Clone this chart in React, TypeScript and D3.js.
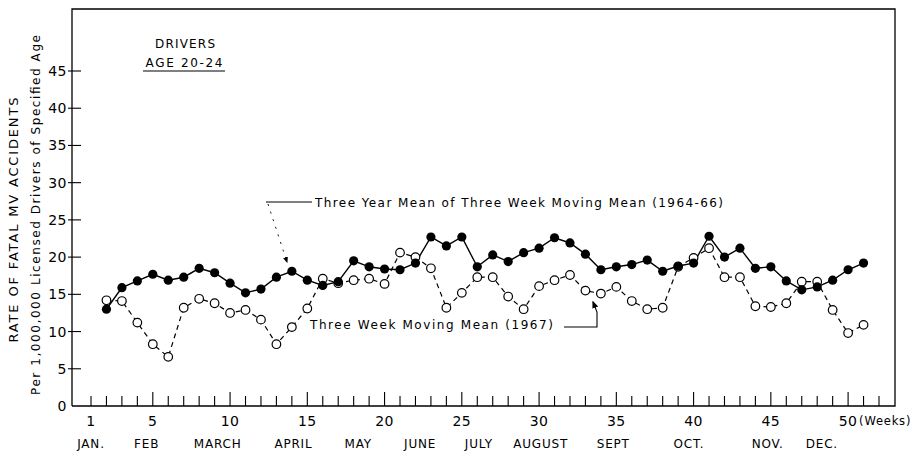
import React from "react";
import * as d3 from "d3";

// weeks 2..51 (three week moving means)
const weeks = d3.range(2, 52);
const meanValues = [
  13.0, 15.9, 16.8, 17.7, 16.9, 17.3, 18.5, 17.9, 16.5, 15.2,
  15.7, 17.3, 18.1, 16.9, 16.2, 16.7, 19.5, 18.7, 18.4, 18.3,
  19.2, 22.7, 21.5, 22.7, 18.7, 20.3, 19.4, 20.6, 21.2, 22.6,
  21.9, 20.4, 18.3, 18.7, 19.0, 19.6, 18.1, 18.8, 19.2, 22.8,
  20.0, 21.2, 18.5, 18.7, 16.8, 15.6, 16.0, 16.9, 18.3, 19.2,
];
const rate1967 = [
  14.2, 14.1, 11.2, 8.3, 6.6, 13.2, 14.4, 13.8, 12.5, 12.9,
  11.6, 8.3, 10.6, 13.1, 17.1, 16.5, 16.9, 17.1, 16.4, 20.6,
  20.0, 18.5, 13.2, 15.2, 17.3, 17.3, 14.7, 13.0, 16.1, 16.9,
  17.6, 15.5, 15.1, 16.0, 14.1, 13.0, 13.2, 18.7, 19.9, 21.2,
  17.3, 17.3, 13.4, 13.3, 13.8, 16.7, 16.7, 12.9, 9.8, 10.9,
];
const yTicks = [0, 5, 10, 15, 20, 25, 30, 35, 40, 45];
const xLabels = [1, 5, 10, 15, 20, 25, 30, 35, 40, 45, 50];
const months = ["JAN.", "FEB", "MARCH", "APRIL", "MAY", "JUNE", "JULY", "AUGUST", "SEPT", "OCT.", "NOV.", "DEC."];
const monthPos = [1.0, 4.6, 9.2, 14.1, 18.3, 22.3, 26.1, 30.1, 34.8, 39.7, 44.8, 48.3];

const FONT = "'DejaVu Sans', sans-serif";

export default function App() {
  const x = d3.scaleLinear().domain([1, 52]).range([91, 879]);
  const y = d3.scaleLinear().domain([0, 45]).range([406, 71]);
  const axisLeft = 72;
  const axisBottom = y(0);
  const right = 895;
  const top = 9;

  const line = d3
    .line<number>()
    .x((_, i) => x(weeks[i]))
    .y((d) => y(d));

  const weekTicks = d3.range(1, 53);

  return (
    <svg
      width={917}
      height={457}
      style={{ position: "absolute", left: 0, top: 0, background: "white" }}
      fontFamily={FONT}
    >
      <defs>
        <marker id="arrow" viewBox="0 0 10 10" refX="8" refY="5" markerWidth="7" markerHeight="7" orient="auto">
          <path d="M0,1 L10,5 L0,9 z" fill="black" />
        </marker>
      </defs>

      {/* frame */}
      <path
        d={`M${axisLeft},${axisBottom} L${axisLeft},${top} L${right},${top} L${right},${axisBottom} L${axisLeft},${axisBottom}`}
        fill="none"
        stroke="black"
        strokeWidth={1.3}
      />

      {/* y ticks */}
      {yTicks.map((t) => (
        <g key={t}>
          {t > 0 && (
            <line x1={axisLeft - 4} x2={axisLeft + 9} y1={y(t)} y2={y(t)} stroke="black" strokeWidth={1.1} />
          )}
          <text x={67} y={y(t)} dy="0.36em" textAnchor="end" fontSize={14} letterSpacing={0.5}>
            {t}
          </text>
        </g>
      ))}

      {/* x ticks */}
      {weekTicks.map((w) => (
        <line
          key={w}
          x1={x(w)}
          x2={x(w)}
          y1={axisBottom}
          y2={axisBottom - (w % 5 === 0 ? 14 : 10)}
          stroke="black"
          strokeWidth={1.1}
        />
      ))}
      {xLabels.map((w) => (
        <text key={w} x={x(w)} y={421} dy="0.36em" textAnchor="middle" fontSize={14} letterSpacing={0.5}>
          {w}
        </text>
      ))}
      <text x={x(50) + 11} y={421} dy="0.36em" fontSize={11.5} letterSpacing={0.8}>
        (Weeks)
      </text>
      {months.map((m, i) => (
        <text key={m} x={x(monthPos[i])} y={444} dy="0.36em" textAnchor="middle" fontSize={12} letterSpacing={0.8}>
          {m}
        </text>
      ))}

      {/* y axis titles */}
      <text
        transform={`translate(13,220) rotate(-90)`}
        textAnchor="middle"
        dy="0.36em"
        fontSize={13}
        textLength={245}
        lengthAdjust="spacing"
      >
        RATE OF FATAL MV ACCIDENTS
      </text>
      <text
        transform={`translate(36,215) rotate(-90)`}
        textAnchor="middle"
        dy="0.36em"
        fontSize={12}
        textLength={360}
        lengthAdjust="spacing"
      >
        Per 1,000,000 Licensed Drivers of Specified Age
      </text>

      {/* title box */}
      <text x={185} y={44} dy="0.36em" textAnchor="middle" fontSize={12} textLength={60} lengthAdjust="spacing">
        DRIVERS
      </text>
      <text x={184} y={63} dy="0.36em" textAnchor="middle" fontSize={12} textLength={77} lengthAdjust="spacing">
        AGE 20-24
      </text>
      <line x1={143} x2={225} y1={71} y2={71} stroke="black" strokeWidth={1.2} />

      {/* 1967 dashed series */}
      <path d={line(rate1967) ?? ""} fill="none" stroke="black" strokeWidth={1.2} strokeDasharray="5,4" />
      {/* mean solid series */}
      <path d={line(meanValues) ?? ""} fill="none" stroke="black" strokeWidth={1.4} />

      {rate1967.map((v, i) => (
        <circle key={"o" + i} cx={x(weeks[i])} cy={y(v)} r={4.3} fill="white" stroke="black" strokeWidth={1.2} />
      ))}
      {meanValues.map((v, i) => (
        <circle key={"f" + i} cx={x(weeks[i])} cy={y(v)} r={4.6} fill="black" />
      ))}

      {/* annotations */}
      <text x={315} y={203} dy="0.36em" fontSize={12} textLength={408} lengthAdjust="spacing">
        Three Year Mean of Three Week Moving Mean (1964-66)
      </text>
      <line x1={266} x2={312} y1={202} y2={202} stroke="black" strokeWidth={1.1} />
      <line
        x1={268}
        y1={204}
        x2={287}
        y2={262}
        stroke="black"
        strokeWidth={0.9}
        strokeDasharray="2,6"
        markerEnd="url(#arrow)"
      />

      <text x={310} y={325} dy="0.36em" fontSize={12} textLength={243} lengthAdjust="spacing">
        Three Week Moving Mean (1967)
      </text>
      <polyline
        points="564,327 597,327 597,312 593,302"
        fill="none"
        stroke="black"
        strokeWidth={1.1}
        markerEnd="url(#arrow)"
      />
    </svg>
  );
}
